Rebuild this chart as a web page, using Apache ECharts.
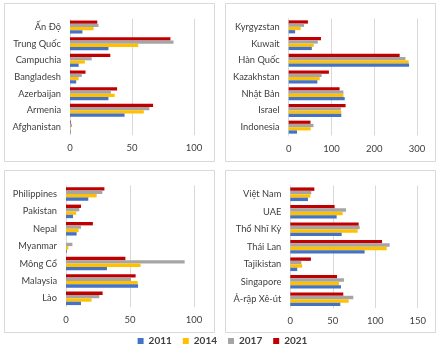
<!DOCTYPE html>
<html><head><meta charset="utf-8">
<script src="https://cdn.jsdelivr.net/npm/echarts@6/dist/echarts.min.js"></script>
<style>html,body{margin:0;padding:0;background:#fff}#c{width:445px;height:357px}</style>
</head><body><div id="c"></div>
<script>
// Categories listed bottom-to-top
const cats1 = ['Afghanistan','Armenia','Azerbaijan','Bangladesh','Campuchia','Trung Quốc','Ấn Độ'];
const cats2 = ['Indonesia','Israel','Nhật Bản','Kazakhstan','Hàn Quốc','Kuwait','Kyrgyzstan'];
const cats3 = ['Lào','Malaysia','Mông Cổ','Myanmar','Nepal','Pakistan','Philippines'];
const cats4 = ['Ả-rập Xê-út','Singapore','Tajikistan','Thái Lan','Thổ Nhĩ Kỳ','UAE','Việt Nam'];

const years = ['2011','2014','2017','2021'];

const p1_2011 = [0.5, 44, 31, 5, 7, 31, 10];
const p1_2014 = [0.5, 59.5, 36, 7, 12, 55, 19];
const p1_2017 = [1.5, 64, 33, 9.5, 17.5, 83.5, 23];
const p1_2021 = [0.5, 67, 38, 12.5, 32.5, 81, 22];

const p2_2011 = [19.5, 123, 131, 67, 281.5, 54, 15];
const p2_2014 = [51.5, 123, 128, 72.5, 280.5, 58.5, 28];
const p2_2017 = [58, 122, 128, 77, 273, 68, 36];
const p2_2021 = [51, 133, 119, 94, 259.5, 75.5, 45];

const p3_2011 = [11.7, 56.3, 32, 0.5, 8.3, 5.5, 17.4];
const p3_2014 = [20, 56, 58.3, 1.8, 9.9, 8, 24];
const p3_2017 = [26, 50.8, 92.7, 5, 11.7, 10.4, 28.4];
const p3_2021 = [28.6, 54.4, 46.4, 0, 21, 11.7, 30];

const p4_2011 = [58.9, 59.7, 8.2, 87.5, 60.5, 54.6, 20.8];
const p4_2014 = [68.7, 57.3, 14, 113.5, 79.3, 61.6, 23.6];
const p4_2017 = [74.2, 63.2, 13, 117, 81.7, 65.6, 24.7];
const p4_2021 = [62.4, 55, 24.3, 108, 80.5, 52.2, 28.3];

const xMax = [100, 300, 100, 150];
const xInterval = [50, 100, 50, 50];

const colors = {'2011':'#4472C4','2014':'#FFC000','2017':'#A5A5A5','2021':'#C00000'};
const FONT = 'Lato';

const panels = [
  {cats: cats1, data: [p1_2011,p1_2014,p1_2017,p1_2021], grid:{left:70, top:18.7, width:124, height:116.6}},
  {cats: cats2, data: [p2_2011,p2_2014,p2_2017,p2_2021], grid:{left:288.7, top:18.5, width:128.3, height:117}},
  {cats: cats3, data: [p3_2011,p3_2014,p3_2017,p3_2021], grid:{left:66, top:185.3, width:128, height:121.7}},
  {cats: cats4, data: [p4_2011,p4_2014,p4_2017,p4_2021], grid:{left:290.3, top:185.5, width:127.4, height:122.5}}
];

const grids = [], xAxes = [], yAxes = [], series = [];
panels.forEach((p, i) => {
  grids.push(Object.assign({containLabel:false}, p.grid));
  xAxes.push({
    type:'value', gridIndex:i, min:0, max:xMax[i], interval:xInterval[i],
    axisLine:{show:false}, axisTick:{show:false},
    splitLine:{show:true, lineStyle:{color:'#d9d9d9', width:1}},
    axisLabel:{color:'#404040', fontFamily:FONT, fontSize:9.5, margin:8}
  });
  yAxes.push({
    type:'category', gridIndex:i, data:p.cats,
    axisLine:{show:false}, axisTick:{show:false},
    axisLabel:{color:'#404040', fontFamily:FONT, fontSize:9.3, margin:9}
  });
  // order top-to-bottom within a group: 2021, 2017, 2014, 2011
  [3,2,1,0].forEach(k => {
    series.push({
      type:'bar', name:years[k], xAxisIndex:i, yAxisIndex:i,
      data:p.data[k], barGap:'0%', barCategoryGap:'22%',
      itemStyle:{color:colors[years[k]]}, animation:false
    });
  });
});

const chart = echarts.init(document.getElementById('c'), null, {renderer:'canvas'});
chart.setOption({
  animation:false,
  backgroundColor:'#fff',
  grid:grids, xAxis:xAxes, yAxis:yAxes, series:series,
  legend:{
    data:years, bottom:6, left:'center', itemWidth:6, itemHeight:6, itemGap:11,
    icon:'rect', textStyle:{fontFamily:FONT, fontSize:10, color:'#404040', fontWeight:'bold'}
  },
  graphic:[
    {type:'rect', shape:{x:4.5, y:3.5, width:210, height:158}, style:{fill:null, stroke:'#d9d9d9', lineWidth:1}, silent:true},
    {type:'rect', shape:{x:225.5, y:3.5, width:210, height:158}, style:{fill:null, stroke:'#d9d9d9', lineWidth:1}, silent:true},
    {type:'rect', shape:{x:4.5, y:170.5, width:210, height:162}, style:{fill:null, stroke:'#d9d9d9', lineWidth:1}, silent:true},
    {type:'rect', shape:{x:225.5, y:170.5, width:210, height:162}, style:{fill:null, stroke:'#d9d9d9', lineWidth:1}, silent:true}
  ]
});
</script></body></html>
